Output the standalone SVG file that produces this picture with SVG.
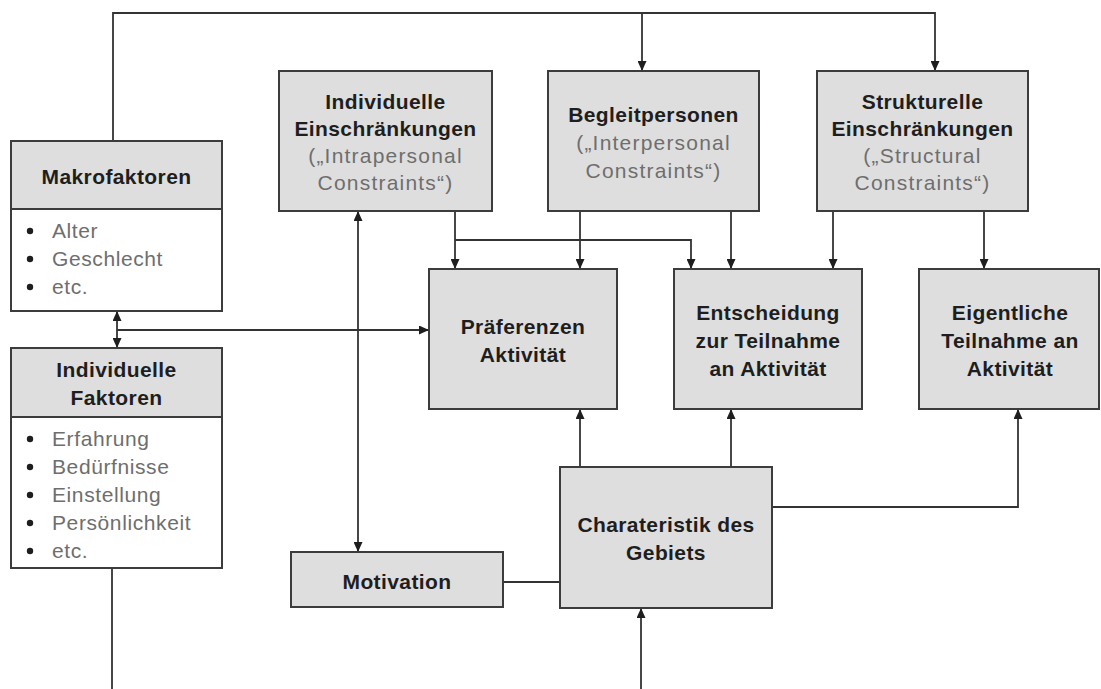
<svg xmlns="http://www.w3.org/2000/svg" width="1101" height="689" viewBox="0 0 1101 689">
  <style>
    .box { fill: #dedede; stroke: #3c3c3c; stroke-width: 2; }
    .list { fill: #ffffff; stroke: #3c3c3c; stroke-width: 2; }
    .title { font-family: "Liberation Sans", Arial, sans-serif; font-weight: bold; font-size: 21px; letter-spacing: 0.4px; fill: #1e1e1e; text-anchor: middle; }
    .sub { font-family: "Liberation Sans", Arial, sans-serif; font-size: 21px; letter-spacing: 1.2px; fill: #6e6e6e; text-anchor: middle; }
    .item { font-family: "Liberation Sans", Arial, sans-serif; font-size: 21px; letter-spacing: 0.6px; fill: #6e6e6e; }
    .dot { fill: #1e1e1e; }
    .wire { fill: none; stroke: #333333; stroke-width: 1.8; }
  </style>
  <defs>
    <marker id="arr" viewBox="0 0 10 10" refX="10" refY="5" markerWidth="10" markerHeight="9" markerUnits="userSpaceOnUse" orient="auto-start-reverse" preserveAspectRatio="none">
      <path d="M0,0 L10,5 L0,10 Z" fill="#1e1e1e"/>
    </marker>
  </defs>

  <rect width="1101" height="689" fill="#ffffff"/>

  <!-- connectors -->
  <g id="connectors">
    <path class="wire" d="M113,141 V13 H935 V71" marker-end="url(#arr)"/>
    <path class="wire" d="M642,13 V71" marker-end="url(#arr)"/>
    <path class="wire" d="M455,211 V269" marker-end="url(#arr)"/>
    <path class="wire" d="M455,240 H691 V269" marker-end="url(#arr)"/>
    <path class="wire" d="M580,211 V269" marker-end="url(#arr)"/>
    <path class="wire" d="M731,211 V269" marker-end="url(#arr)"/>
    <path class="wire" d="M833,211 V269" marker-end="url(#arr)"/>
    <path class="wire" d="M984,211 V269" marker-end="url(#arr)"/>
    <path class="wire" d="M117,311 V348" marker-start="url(#arr)" marker-end="url(#arr)"/>
    <path class="wire" d="M117,330 H429" marker-end="url(#arr)"/>
    <path class="wire" d="M358,211 V552" marker-start="url(#arr)" marker-end="url(#arr)"/>
    <path class="wire" d="M503,582 H560"/>
    <path class="wire" d="M580,467 V409" marker-end="url(#arr)"/>
    <path class="wire" d="M731,467 V409" marker-end="url(#arr)"/>
    <path class="wire" d="M772,507 H1018 V409" marker-end="url(#arr)"/>
    <path class="wire" d="M641,689 V608" marker-end="url(#arr)"/>
    <path class="wire" d="M112,568 V689"/>
  </g>

  <!-- left column: factor lists -->
  <g id="makrofaktoren">
    <rect class="list" x="11" y="141" width="211" height="170"/>
    <rect class="box" x="11" y="141" width="211" height="68"/>
    <text class="title" x="116.5" y="184">Makrofaktoren</text>
    <circle class="dot" cx="30" cy="231" r="3.2"/>
    <circle class="dot" cx="30" cy="259" r="3.2"/>
    <circle class="dot" cx="30" cy="287" r="3.2"/>
    <text class="item" x="52" y="238">Alter</text>
    <text class="item" x="52" y="266">Geschlecht</text>
    <text class="item" x="52" y="294">etc.</text>
  </g>

  <g id="individuelle-faktoren">
    <rect class="list" x="11" y="348" width="211" height="220"/>
    <rect class="box" x="11" y="348" width="211" height="69"/>
    <text class="title" x="116.5" y="377">Individuelle</text>
    <text class="title" x="116.5" y="405">Faktoren</text>
    <circle class="dot" cx="30" cy="439" r="3.2"/>
    <circle class="dot" cx="30" cy="467" r="3.2"/>
    <circle class="dot" cx="30" cy="495" r="3.2"/>
    <circle class="dot" cx="30" cy="523" r="3.2"/>
    <circle class="dot" cx="30" cy="551" r="3.2"/>
    <text class="item" x="52" y="446">Erfahrung</text>
    <text class="item" x="52" y="474">Bedürfnisse</text>
    <text class="item" x="52" y="502">Einstellung</text>
    <text class="item" x="52" y="530">Persönlichkeit</text>
    <text class="item" x="52" y="558">etc.</text>
  </g>

  <!-- constraints row -->
  <g id="individuelle-einschraenkungen">
    <rect class="box" x="279" y="71" width="213" height="140"/>
    <text class="title" x="385.5" y="109">Individuelle</text>
    <text class="title" x="385.5" y="136">Einschränkungen</text>
    <text class="sub" x="385.5" y="163">(„Intrapersonal</text>
    <text class="sub" x="385.5" y="190">Constraints“)</text>
  </g>

  <g id="begleitpersonen">
    <rect class="box" x="548" y="71" width="211" height="140"/>
    <text class="title" x="653.5" y="122">Begleitpersonen</text>
    <text class="sub" x="653.5" y="150">(„Interpersonal</text>
    <text class="sub" x="653.5" y="178">Constraints“)</text>
  </g>

  <g id="strukturelle-einschraenkungen">
    <rect class="box" x="817" y="71" width="211" height="140"/>
    <text class="title" x="922.5" y="109">Strukturelle</text>
    <text class="title" x="922.5" y="136">Einschränkungen</text>
    <text class="sub" x="922.5" y="163">(„Structural</text>
    <text class="sub" x="922.5" y="190">Constraints“)</text>
  </g>

  <!-- outcome row -->
  <g id="praeferenzen">
    <rect class="box" x="429" y="269" width="188" height="140"/>
    <text class="title" x="523" y="334">Präferenzen</text>
    <text class="title" x="523" y="362">Aktivität</text>
  </g>

  <g id="entscheidung">
    <rect class="box" x="674" y="269" width="188" height="140"/>
    <text class="title" x="768" y="320">Entscheidung</text>
    <text class="title" x="768" y="348">zur Teilnahme</text>
    <text class="title" x="768" y="376">an Aktivität</text>
  </g>

  <g id="teilnahme">
    <rect class="box" x="919" y="269" width="180" height="140"/>
    <text class="title" x="1010" y="320">Eigentliche</text>
    <text class="title" x="1010" y="348">Teilnahme an</text>
    <text class="title" x="1010" y="376">Aktivität</text>
  </g>

  <!-- lower row -->
  <g id="motivation">
    <rect class="box" x="291" y="552" width="212" height="55"/>
    <text class="title" x="397" y="589">Motivation</text>
  </g>

  <g id="gebiet">
    <rect class="box" x="560" y="467" width="212" height="141"/>
    <text class="title" x="666" y="532">Charateristik des</text>
    <text class="title" x="666" y="560">Gebiets</text>
  </g>
</svg>
